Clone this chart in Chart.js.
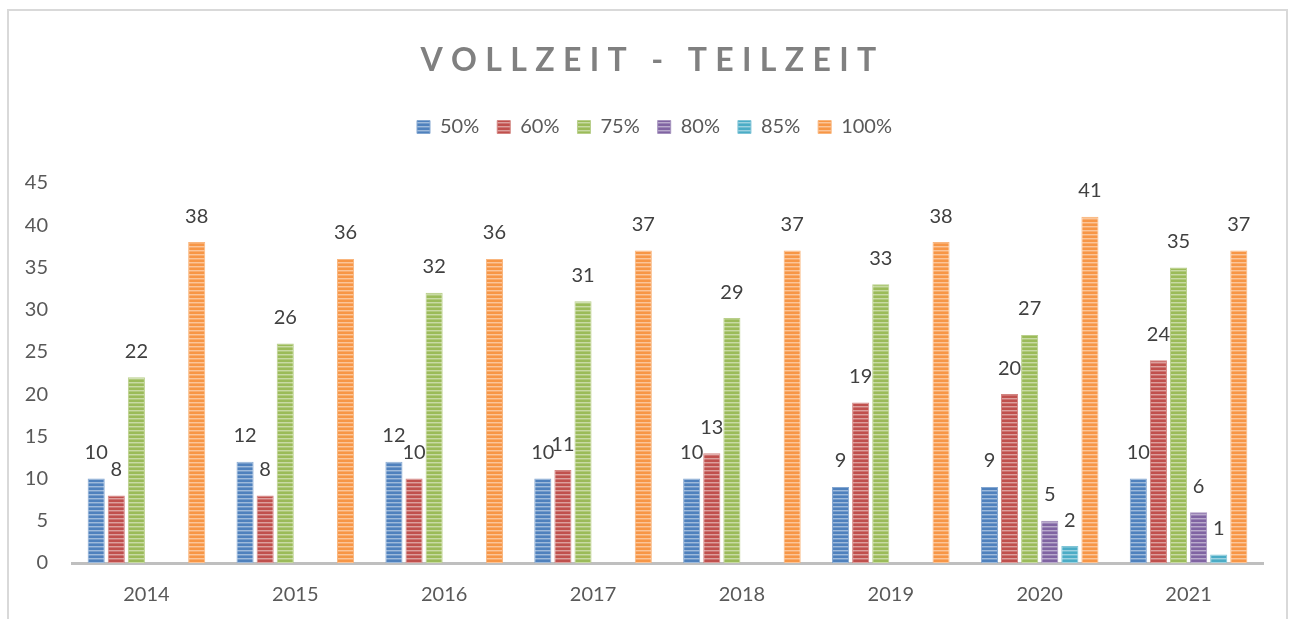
<!DOCTYPE html>
<html>
<head>
<meta charset="utf-8">
<script src="https://cdn.jsdelivr.net/npm/chart.js@4.4.1/dist/chart.umd.min.js"></script>
<style>
  html, body { margin: 0; padding: 0; background: #fff; }
  canvas { display: block; }
</style>
</head>
<body>
<canvas id="chartTeilzeit" width="1296" height="619"></canvas>
<script>
// data
var years = ['2014', '2015', '2016', '2017', '2018', '2019', '2020', '2021'];
var seriesNames = ['50%', '60%', '75%', '80%', '85%', '100%'];
var values50 = [10, 12, 12, 10, 10, 9, 9, 10];
var values60 = [8, 8, 10, 11, 13, 19, 20, 24];
var values75 = [22, 26, 32, 31, 29, 33, 27, 35];
var values80 = [null, null, null, null, null, null, 5, 6];
var values85 = [null, null, null, null, null, null, 2, 1];
var values100 = [38, 36, 36, 37, 37, 38, 41, 37];
var yTicks = [0, 5, 10, 15, 20, 25, 30, 35, 40, 45];

// chart colors
var colors = ['#4F81BD', '#C0504D', '#9BBB59', '#8064A2', '#4BACC6', '#F79646'];
var fontFamily = 'Lato, "Open Sans", sans-serif';
var textSize = 20;

var canvas = document.getElementById('chartTeilzeit');
var ctx = canvas.getContext('2d');

function lighten(hex, amt) {
  var n = parseInt(hex.slice(1), 16);
  var r = (n >> 16) & 255, g = (n >> 8) & 255, b = n & 255;
  r = Math.round(r + (255 - r) * amt);
  g = Math.round(g + (255 - g) * amt);
  b = Math.round(b + (255 - b) * amt);
  return 'rgb(' + r + ',' + g + ',' + b + ')';
}

// narrow horizontal stripes like the excel fill
function stripes(hex) {
  var c = document.createElement('canvas');
  c.width = 4; c.height = 4;
  var x = c.getContext('2d');
  x.fillStyle = hex;
  x.fillRect(0, 0, 4, 4);
  x.fillStyle = lighten(hex, 0.45);
  x.fillRect(0, 2, 4, 1);
  x.fillStyle = lighten(hex, 0.2);
  x.fillRect(0, 3, 4, 1);
  return ctx.createPattern(c, 'repeat');
}

var allValues = [values50, values60, values75, values80, values85, values100];
var datasets = seriesNames.map(function (name, i) {
  return {
    label: name,
    data: allValues[i],
    backgroundColor: stripes(colors[i]),
    borderColor: lighten(colors[i], 0.3),
    borderWidth: 1,
    categoryPercentage: 0.81,
    barPercentage: 0.85
  };
});

// value labels above bars
var valueLabels = {
  id: 'valueLabels',
  afterDatasetsDraw: function (chart) {
    var c = chart.ctx;
    c.save();
    c.font = textSize + 'px ' + fontFamily;
    c.fillStyle = '#404040';
    c.textAlign = 'center';
    c.textBaseline = 'middle';
    chart.data.datasets.forEach(function (ds, i) {
      chart.getDatasetMeta(i).data.forEach(function (bar, j) {
        var v = ds.data[j];
        if (v === null || v === undefined) return;
        c.fillText(String(v), bar.x, bar.y - 26);
      });
    });
    c.restore();
  }
};

// frame and spaced title
var frameTitle = {
  id: 'frameTitle',
  afterDraw: function (chart) {
    var c = chart.ctx;
    c.save();
    c.strokeStyle = '#d9d9d9';
    c.lineWidth = 2;
    c.strokeRect(8, 10, 1279, 640);
    var text = 'VOLLZEIT - TEILZEIT';
    c.font = 'bold 32px ' + fontFamily;
    c.fillStyle = '#808080';
    c.textBaseline = 'middle';
    c.textAlign = 'left';
    var w = c.measureText(text).width;
    var spacing = (455 - w) / (text.length - 1);
    var x = 648 - 455 / 2;
    for (var k = 0; k < text.length; k++) {
      c.fillText(text[k], x, 61);
      x += c.measureText(text[k]).width + spacing;
    }
    c.restore();
  }
};

// fixed legend box height so the plot starts lower, legend centred on the page
var legendGap = {
  id: 'legendGap',
  beforeInit: function (chart) {
    var fit = chart.legend.fit;
    chart.legend.fit = function () {
      fit.bind(chart.legend)();
      this.height = 84;
    };
  },
  afterLayout: function (chart) {
    chart.legend.left += 23;
    chart.legend.right += 23;
  }
};

new Chart(canvas, {
  type: 'bar',
  data: { labels: years, datasets: datasets },
  plugins: [legendGap, valueLabels, frameTitle],
  options: {
    responsive: false,
    animation: false,
    devicePixelRatio: 1,
    layout: { padding: { top: 99, right: 33, bottom: 0, left: 0 } },
    plugins: {
      title: { display: false },
      tooltip: { enabled: false },
      legend: {
        position: 'top',
        labels: {
          boxWidth: 13,
          boxHeight: 13,
          padding: 18,
          color: '#595959',
          font: { family: fontFamily, size: textSize }
        }
      }
    },
    scales: {
      x: {
        afterFit: function (scale) { scale.height = 56; },
        grid: { display: false, drawTicks: false },
        border: { display: true, color: '#bfbfbf', width: 3 },
        ticks: { color: '#595959', padding: 20, font: { family: fontFamily, size: textSize } }
      },
      y: {
        min: 0,
        max: 45,
        afterFit: function (scale) { scale.width = 72; },
        afterBuildTicks: function (scale) {
          scale.ticks = yTicks.map(function (v) { return { value: v }; });
        },
        grid: { display: false, drawTicks: false },
        border: { display: false },
        ticks: { color: '#595959', padding: 24, font: { family: fontFamily, size: textSize } }
      }
    }
  }
});
</script>
</body>
</html>
